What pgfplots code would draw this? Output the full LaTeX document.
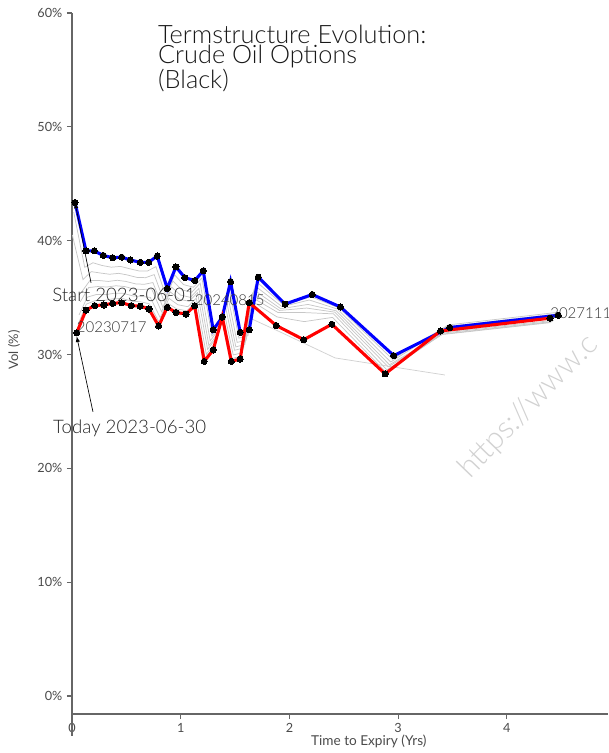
\documentclass[border=0pt]{standalone}
\usepackage{fontspec}
\setmainfont{Lato Light}
\newfontfamily\regfont{Lato}
\usepackage{pgfplots}
\pgfplotsset{compat=1.18}
\definecolor{axgray}{HTML}{666666}
\definecolor{txtgray}{HTML}{4A4A4A}
\begin{document}
\begin{tikzpicture}
\begin{axis}[
  scale only axis, width=402pt, height=525.75pt,
  xmin=0, xmax=4.93, ymin=-1.58, ymax=60,
  axis x line=bottom, axis y line=left,
  axis line style={-, draw=axgray, line width=1.1pt},
  tick style={draw=axgray, line width=0.9pt},
  tick align=outside, major tick length=3.75pt,
  xtick={0,1,2,3,4}, ytick={0,10,20,30,40,50,60},
  yticklabels={0\%,10\%,20\%,30\%,40\%,50\%,60\%},
  /pgf/number format/assume math mode=true,
  ticklabel style={font=\regfont\fontsize{9.5}{11}\selectfont, text=txtgray},
  clip=false,
]
% grey intermediate term structures
\addplot[draw=black!22, line width=0.55pt, mark=none] table {
0.016 42.5
0.117 37.66
0.193 38.06
0.276 37.82
0.362 37.67
0.445 37.74
0.524 37.55
0.616 37.34
0.693 37.33
0.772 37.72
0.864 35.14
0.944 36.99
1.026 36.14
1.118 35.91
1.195 36.73
1.287 31.61
1.370 32.7
1.446 35.78
1.535 31.44
1.618 31.65
1.701 36.35
1.948 34.34
2.198 35.07
2.458 34.09
2.948 29.58
3.462 32.6
4.461 33.7
};
\addplot[draw=black!22, line width=0.55pt, mark=none] table {
0.003 40.5
0.101 36.58
0.177 37.28
0.26 37.16
0.346 37.05
0.429 37.13
0.508 36.99
0.6 36.77
0.677 36.75
0.756 37.02
0.848 34.64
0.928 36.46
1.01 35.68
1.102 35.47
1.179 36.27
1.271 31.19
1.354 32.27
1.43 35.31
1.519 31.06
1.602 31.26
1.685 36.02
1.932 34.2
2.182 34.79
2.442 33.99
2.932 29.34
3.446 32.45
4.445 33.55
};
\addplot[draw=black!22, line width=0.55pt, mark=none] table {
0.089 35.5
0.165 36.5
0.248 36.5
0.334 36.42
0.417 36.52
0.496 36.42
0.588 36.2
0.665 36.17
0.744 36.32
0.836 34.15
0.916 35.92
0.998 35.22
1.09 35.02
1.167 35.81
1.259 30.78
1.342 31.84
1.418 34.85
1.507 30.67
1.59 30.88
1.673 35.68
1.92 34.02
2.17 34.4
2.43 33.84
2.92 29.1
3.434 32.0
4.433 33.0
};
\addplot[draw=black!22, line width=0.55pt, mark=none] table {
0.077 34.64
0.153 35.88
0.236 35.97
0.322 35.93
0.405 36.04
0.484 35.97
0.576 35.74
0.653 35.71
0.732 35.77
0.824 33.75
0.904 35.5
0.986 34.86
1.078 34.67
1.155 35.44
1.247 30.45
1.33 31.49
1.406 34.48
1.495 30.37
1.578 30.57
1.661 35.41
1.908 33.87
2.158 34.08
2.418 33.72
2.908 28.91
3.422 31.9
4.421 32.9
};
\addplot[draw=black!22, line width=0.55pt, mark=none] table {
0.065 33.48
0.141 35.04
0.224 35.27
0.31 35.26
0.393 35.39
0.472 35.37
0.564 35.14
0.641 35.1
0.72 35.02
0.812 33.23
0.892 34.93
0.974 34.37
1.066 34.2
1.143 34.95
1.235 30.01
1.318 31.03
1.394 33.98
1.483 29.96
1.566 30.16
1.649 35.05
1.896 33.68
2.146 33.68
2.406 33.57
2.896 28.65
3.41 31.8
4.409 32.85
};
\addplot[draw=black!22, line width=0.55pt, mark=none] table {
0.055 32.62
0.131 34.42
0.214 34.74
0.3 34.76
0.383 34.9
0.462 34.92
0.554 34.68
0.631 34.63
0.71 34.46
0.802 32.83
0.882 34.5
0.964 34.0
1.056 33.84
1.133 34.58
1.225 29.68
1.308 30.69
1.384 33.61
1.473 29.65
1.556 29.86
1.639 34.78
1.886 33.3
2.136 32.89
2.396 33.26
2.886 28.46
3.4 31.75
4.399 32.8
};
\addplot[draw=black!18, line width=0.55pt, mark=none] table {
1.55 30.6
1.636 33.2
1.91 32.0
2.42 29.7
3.43 28.2
};
% start term structure (blue)
\addplot[draw=blue, line width=2.3pt, mark=*, mark size=2.3pt,
  mark options={draw=black, fill=black, line width=0pt}] table {
0.028 43.35
0.129 39.1
0.205 39.1
0.288 38.7
0.374 38.5
0.457 38.55
0.536 38.3
0.628 38.1
0.705 38.1
0.784 38.65
0.876 35.8
0.956 37.7
1.038 36.75
1.13 36.5
1.207 37.35
1.299 32.16
1.382 33.28
1.458 36.4
1.547 31.95
1.63 32.16
1.713 36.8
1.96 34.43
2.21 35.27
2.47 34.17
2.96 29.9
3.474 32.37
4.473 33.45
};
% today term structure (red)
\addplot[draw=red, line width=2.3pt, mark=*, mark size=2.3pt,
  mark options={draw=black, fill=black, line width=0pt}] table {
0.043 31.9
0.129 33.9
0.208 34.3
0.294 34.35
0.374 34.5
0.457 34.55
0.545 34.3
0.628 34.25
0.708 34.0
0.797 32.5
0.876 34.15
0.956 33.7
1.048 33.55
1.128 34.27
1.216 29.4
1.299 30.4
1.382 33.3
1.465 29.4
1.547 29.6
1.63 34.56
1.878 32.55
2.132 31.3
2.39 32.66
2.88 28.3
3.39 32.07
4.397 33.19
};
% annotations
\draw[-latex, line width=0.5pt] (axis cs:0.175,36.3) -- (axis cs:0.028,43.35);
\draw[-latex, line width=0.5pt] (axis cs:0.193,24.96) -- (axis cs:0.043,31.6);
\node[anchor=base west, inner sep=0pt, text=black!85, font=\fontsize{14}{16}\selectfont] at (axis cs:-0.184,34.62) {Start 2023-06-01};
\node[anchor=base west, inner sep=0pt, text=black!85, font=\fontsize{14}{16}\selectfont] at (axis cs:-0.175,23.1) {Today 2023-06-30};
\node[anchor=base west, inner sep=0pt, text=black!80, font=\fontsize{11.25}{13}\selectfont] at (axis cs:0.043,31.9) {20230717};
\node[anchor=base west, inner sep=0pt, text=black!80, font=\fontsize{11.25}{13}\selectfont] at (axis cs:1.128,34.27) {20240815};
\node[anchor=base west, inner sep=0pt, text=black!80, font=\fontsize{11.25}{13}\selectfont] at (axis cs:4.397,33.19) {20271116};
% title
\node[anchor=north west, inner sep=0pt, align=left, text=black!90, font=\fontsize{19}{14.9}\selectfont] at (axis cs:0.79,58.95) {Termstructure Evolution:\\Crude Oil Options\\(Black)};
% axis labels
\node[rotate=90, inner sep=0pt, text=txtgray, font=\regfont\fontsize{9.75}{11}\selectfont] at (axis cs:-0.533,30.4) {Vol (\%)};
\node[inner sep=0pt, text=txtgray, font=\regfont\fontsize{10.2}{11}\selectfont] at (axis cs:2.73,-3.95) {Time to Expiry (Yrs)};
% y axis extension below the x axis
\draw[draw=axgray, line width=1.1pt] (axis cs:0,-1.58) -- ++(0,-30pt);
% watermark
\node[anchor=base west, rotate=46, inner sep=0pt, text=black!18, font=\fontsize{23}{25}\selectfont] at (axis cs:3.66,19.0) {https://www.c};
\coordinate (SW) at (rel axis cs:0,0);
\coordinate (NE) at (rel axis cs:1,1);
\end{axis}
\pgfresetboundingbox
\path[use as bounding box] ([xshift=-54pt,yshift=-29.25pt]SW) rectangle ([yshift=9.75pt]NE);
\end{tikzpicture}
\end{document}
